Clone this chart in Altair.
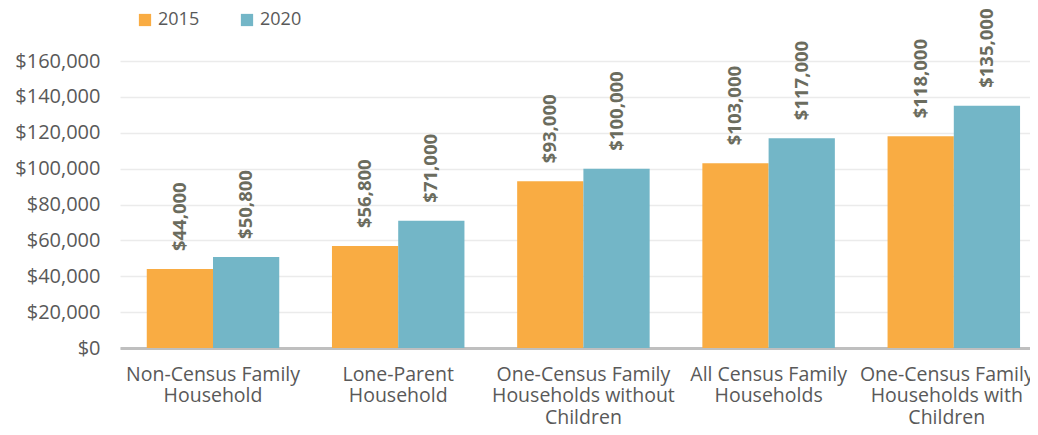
import altair as alt
import pandas as pd

categories = [
    "Non-Census Family|Household",
    "Lone-Parent|Household",
    "One-Census Family|Households without|Children",
    "All Census Family|Households",
    "One-Census Family|Households with|Children",
]
years = ["2015", "2020"]
values_2015 = [44000, 56800, 93000, 103000, 118000]
values_2020 = [50800, 71000, 100000, 117000, 135000]
colors = ["#F9AC43", "#73B6C7"]
y_ticks = [0, 20000, 40000, 60000, 80000, 100000, 120000, 140000, 160000]

rows = []
for c, a, b in zip(categories, values_2015, values_2020):
    rows.append({"category": c, "year": years[0], "value": a})
    rows.append({"category": c, "year": years[1], "value": b})
df = pd.DataFrame(rows)

FONT = "Open Sans"
last_cat = categories[-1]

base = alt.Chart(df).encode(
    x=alt.X(
        "category:N",
        sort=categories,
        scale=alt.Scale(paddingInner=0.2846, paddingOuter=0.0991, align=0.729),
        axis=alt.Axis(
            title=None,
            labelAngle=0,
            labelExpr="split(datum.label, '|')",
            labelFont=FONT,
            labelFontSize=19.5,
            labelColor="#595959",
            labelLineHeight=21.5,
            labelPadding=17,
            labelLimit=300,
            labelBaseline="top",
            labelOffset={
                "condition": {"test": f"datum.value == '{last_cat}'", "value": -7},
                "value": 0,
            },
            ticks=False,
            domainColor="#BFBFBF",
            domainWidth=3,
        ),
    ),
    xOffset=alt.XOffset("year:N", sort=years, scale=alt.Scale(paddingInner=0, paddingOuter=0)),
    y=alt.Y(
        "value:Q",
        scale=alt.Scale(domain=[0, 160000], nice=False),
        axis=alt.Axis(
            title=None,
            values=y_ticks,
            format="$,.0f",
            labelFont=FONT,
            labelFontSize=20,
            labelColor="#595959",
            labelPadding=20,
            ticks=False,
            domain=False,
            gridColor="#EBEBEB",
            gridWidth=1.5,
        ),
    ),
)

bars = base.mark_bar().encode(
    color=alt.Color(
        "year:N",
        sort=years,
        scale=alt.Scale(domain=years, range=colors),
        legend=alt.Legend(
            title=None,
            orient="none",
            legendX=16,
            legendY=-50,
            direction="horizontal",
            symbolType="square",
            symbolSize=150,
            symbolStrokeWidth=0,
            labelFont=FONT,
            labelFontSize=18,
            labelColor="#595959",
            labelOffset=4,
            columnPadding=38,
        ),
    )
)

labels = base.mark_text(
    angle=270,
    align="left",
    baseline="middle",
    dx=18,
    font=FONT,
    fontSize=18.5,
    fontWeight="bold",
    color="#6B6C5E",
).encode(text=alt.Text("value:Q", format="$,.0f"))

chart = (
    alt.layer(bars, labels)
    .properties(
        width=910,
        height=287,
        padding={"left": 112, "top": 53, "right": 0, "bottom": 79},
        autosize=alt.AutoSizeParams(type="none"),
    )
    .configure_view(stroke=None)
)

chart.save("out.html", embed_options={"renderer": "svg", "actions": False})
